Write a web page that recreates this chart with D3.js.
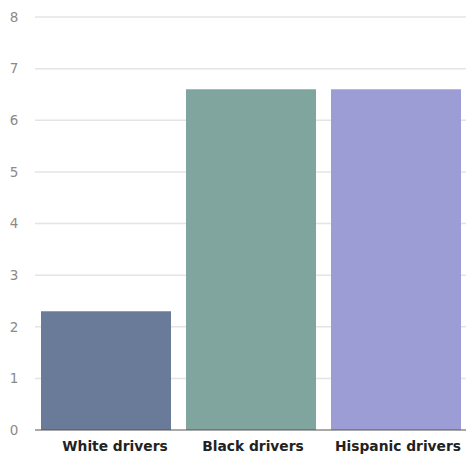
<!DOCTYPE html>
<html><head><meta charset="utf-8">
<script src="https://cdn.jsdelivr.net/npm/d3@7"></script>
<style>body{margin:0;background:#fff}svg{display:block}</style>
</head><body>
<svg id="c" width="466" height="454"></svg>
<script>
const categories = ["White drivers", "Black drivers", "Hispanic drivers"];
const values = [2.3, 6.6, 6.6];
const colors = ["#6a7b99", "#80a59e", "#9d9dd5"];
const yTicks = [0, 1, 2, 3, 4, 5, 6, 7, 8];

const svg = d3.select("#c");
const x = d3.scaleBand().domain(categories).range([41, 461]).paddingInner(0.1034).paddingOuter(0);
const y = d3.scaleLinear().domain([0, 8]).range([430, 17]);

// gridlines
svg.append("g").selectAll("line").data(yTicks.filter(d => d > 0)).join("line")
  .attr("x1", 35).attr("x2", 466)
  .attr("y1", d => y(d)).attr("y2", d => y(d))
  .attr("stroke", "#e4e4e4").attr("stroke-width", 1.5);

// y labels
svg.append("g").selectAll("text").data(yTicks).join("text")
  .attr("x", 14).attr("y", d => y(d)).attr("dy", "0.36em")
  .attr("text-anchor", "middle")
  .attr("font-family", "DejaVu Sans, sans-serif")
  .attr("font-size", 13.5).attr("fill", "#8a8a8a")
  .text(d => d);

// bars
svg.append("g").selectAll("rect").data(values).join("rect")
  .attr("x", (d, i) => x(categories[i]))
  .attr("width", x.bandwidth())
  .attr("y", d => y(d))
  .attr("height", d => y(0) - y(d))
  .attr("fill", (d, i) => colors[i]);

// baseline
svg.append("line").attr("x1", 35).attr("x2", 466).attr("y1", y(0)).attr("y2", y(0))
  .attr("stroke", "#555").attr("stroke-width", 1.2);

// x labels (the first label sits slightly right of its bar centre in the reference)
svg.append("g").selectAll("text").data(categories).join("text")
  .attr("x", (d, i) => x(d) + x.bandwidth() / 2 + (i === 0 ? 9 : 2))
  .attr("y", 451)
  .attr("text-anchor", "middle")
  .attr("font-family", "DejaVu Sans, sans-serif")
  .attr("font-weight", "bold").attr("font-size", 13.8).attr("fill", "#222")
  .text(d => d);
</script>
</body></html>
